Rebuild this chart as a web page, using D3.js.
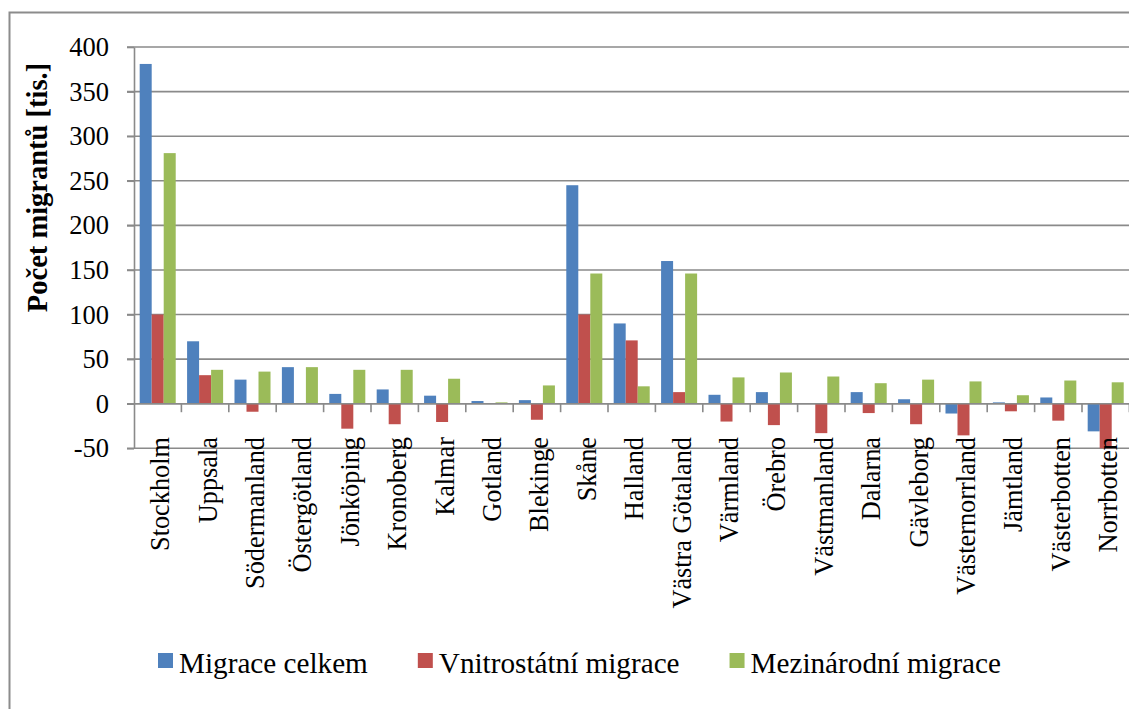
<!DOCTYPE html>
<html lang="cs">
<head>
<meta charset="UTF-8">
<script src="https://cdnjs.cloudflare.com/ajax/libs/d3/7.8.5/d3.min.js"></script>
<title>Migrace podle krajů</title>
<style>
    body { margin: 0; background: #fff; }
    svg { display: block; }
    .grid line { stroke: #8a8a8a; stroke-width: 1.6px; }
    .yaxis line, .yaxis path { stroke: #8a8a8a; stroke-width: 1.6px; }
</style>
</head>
<body>
<div id="chart"></div>
<script>
    // regions (kraje)
    const regions = ["Stockholm", "Uppsala", "Södermanland", "Östergötland", "Jönköping", "Kronoberg",
        "Kalmar", "Gotland", "Blekinge", "Skåne", "Halland", "Västra Götaland", "Värmland", "Örebro",
        "Västmanland", "Dalarna", "Gävleborg", "Västernorrland", "Jämtland", "Västerbotten", "Norrbotten"];

    // values in thousands
    const migraceCelkem = [381, 70, 27, 41, 11, 16, 9, 3, 4, 245, 90, 160, 10, 13, 0, 13, 5, -11, 1.5, 7, -31];
    const vnitrostatni = [100, 32, -9, 0, -28, -23, -20.5, 0, -18, 100, 71, 13, -20, -24, -33, -10.5, -23, -35.5, -8.5, -19, -50];
    const mezinarodni = [281, 38, 36, 41, 38, 38, 28, 1.5, 20.5, 146, 19.5, 146, 29.5, 35, 30.5, 23, 27, 25, 9.5, 26, 24];

    const seriesNames = ["Migrace celkem", "Vnitrostátní migrace", "Mezinárodní migrace"];
    const seriesColors = ["#4f81bd", "#c0504d", "#9bbb59"];
    const yTicks = [-50, 0, 50, 100, 150, 200, 250, 300, 350, 400];
    const yTitle = "Počet migrantů [tis.]";

    const FONT = "'Liberation Serif', 'Times New Roman', Times, serif";
    const width = 1129, height = 709;
    const plot = { left: 134, top: 47, bottom: 448.3, right: 134 + 21 * 47.4 };

    const svg = d3.select("#chart").append("svg")
        .attr("width", width)
        .attr("height", height);

    // chart area border (runs off the right and bottom edge)
    svg.append("rect")
        .attr("x", 9.5).attr("y", 12.5)
        .attr("width", 1300).attr("height", 900)
        .attr("fill", "none")
        .attr("stroke", "#8c8c8c")
        .attr("stroke-width", 2);

    const x = d3.scaleBand()
        .domain(regions)
        .range([plot.left, plot.right])
        .paddingInner(0.24)
        .paddingOuter(0.12);

    const xs = d3.scaleBand()
        .domain(seriesNames)
        .range([0, x.bandwidth()]);

    const y = d3.scaleLinear()
        .domain([-50, 400])
        .range([plot.bottom, plot.top]);

    // gridlines
    svg.append("g").attr("class", "grid")
        .selectAll("line")
        .data(yTicks)
        .enter().append("line")
        .attr("x1", plot.left - 7)
        .attr("x2", plot.right + 20)
        .attr("y1", d => y(d))
        .attr("y2", d => y(d));

    // y axis
    const yAxis = svg.append("g").attr("class", "yaxis")
        .attr("transform", `translate(${plot.left},0)`)
        .call(d3.axisLeft(y).tickValues(yTicks).tickFormat(d => String(d))
            .tickSize(7).tickPadding(18).tickSizeOuter(0));
    yAxis.selectAll("text")
        .style("font-family", FONT)
        .style("font-size", "26.5px")
        .attr("fill", "#000");

    // bars
    const series = [migraceCelkem, vnitrostatni, mezinarodni];
    series.forEach((vals, si) => {
        svg.append("g")
            .selectAll("rect")
            .data(regions)
            .enter().append("rect")
            .attr("x", d => x(d) + xs(seriesNames[si]))
            .attr("width", xs.bandwidth())
            .attr("y", (d, i) => y(Math.max(0, vals[i])))
            .attr("height", (d, i) => Math.abs(y(vals[i]) - y(0)))
            .attr("fill", seriesColors[si]);
    });

    // x axis line at 0 with category separators
    svg.append("line")
        .attr("x1", plot.left).attr("x2", plot.right + 20)
        .attr("y1", y(0)).attr("y2", y(0))
        .attr("stroke", "#8a8a8a").attr("stroke-width", 1.6);

    svg.append("g")
        .selectAll("line")
        .data(regions)
        .enter().append("line")
        .attr("x1", d => x(d) + x.bandwidth() + x.step() * 0.12)
        .attr("x2", d => x(d) + x.bandwidth() + x.step() * 0.12)
        .attr("y1", y(0))
        .attr("y2", y(0) + 8.5)
        .attr("stroke", "#8a8a8a").attr("stroke-width", 1.6);

    // category labels
    svg.append("g")
        .selectAll("text")
        .data(regions)
        .enter().append("text")
        .style("font-family", FONT)
        .style("font-size", "26.3px")
        .attr("text-anchor", "end")
        .attr("transform", d => `translate(${x(d) + x.bandwidth() / 2 + 11.5},437) rotate(-90)`)
        .text(d => d);

    // y title
    svg.append("text")
        .attr("transform", `translate(47,${(62 + 313) / 2}) rotate(-90)`)
        .attr("text-anchor", "middle")
        .style("font-family", FONT)
        .style("font-weight", "bold")
        .style("font-size", "28.5px")
        .text(yTitle);

    // legend
    const legend = svg.append("g");
    let lx = 158;
    seriesNames.forEach((name, i) => {
        legend.append("rect")
            .attr("x", lx).attr("y", 653)
            .attr("width", 15).attr("height", 15)
            .attr("fill", seriesColors[i]);
        const t = legend.append("text")
            .attr("x", lx + 21).attr("y", 673)
            .style("font-family", FONT)
            .style("font-size", "29.2px")
            .text(name);
        lx += 21 + t.node().getComputedTextLength() + 50;
    });
</script>
</body>
</html>
